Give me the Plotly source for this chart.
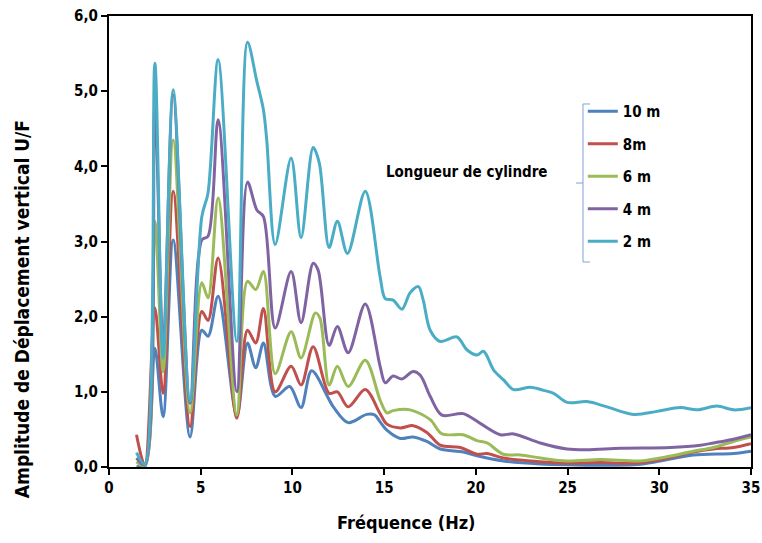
import plotly.graph_objects as go

# ---- data (frequency Hz, amplitude U/F) ----
names = ["10 m", "8m", "6 m", "4 m", "2 m"]
colors = ["#4F81BD", "#C0504D", "#9BBB59", "#8064A2", "#4BACC6"]

f_10 = [1.5, 1.95, 2.5, 2.95, 3.5, 4.42, 5.06, 5.4, 5.95, 6.97, 7.55, 8.0, 8.42, 9.06, 9.85, 10.47, 11.05,
        12.23, 13.04, 14.05, 14.5, 14.78, 15.15, 15.88, 16.58, 17.33, 18.06, 19.31, 20.06, 21.51, 23.51,
        24.97, 28.6, 30.06, 31.86, 34.04, 35.0]
a_10 = [0.01, 0.01, 1.58, 0.67, 3.02, 0.40, 1.82, 1.74, 2.27, 0.68, 1.65, 1.32, 1.65, 0.94, 1.07, 0.79, 1.28,
        0.80, 0.59, 0.70, 0.69, 0.60, 0.49, 0.38, 0.40, 0.34, 0.24, 0.20, 0.15, 0.08, 0.04,
        0.03, 0.03, 0.08, 0.16, 0.18, 0.21]

f_8 = [1.5, 1.95, 2.5, 2.95, 3.5, 4.42, 5.06, 5.4, 5.95, 6.97, 7.55, 8.0, 8.42, 9.06, 9.93, 10.47, 11.13,
       12.0, 12.45, 13.04, 13.97, 14.78, 15.15, 15.88, 16.58, 17.33, 18.06, 19.15, 20.06, 20.61, 21.49,
       23.51, 24.97, 26.79, 28.6, 30.06, 31.86, 32.95, 34.04, 35.0]
a_8 = [0.43, 0.02, 2.12, 0.98, 3.67, 0.54, 2.07, 1.95, 2.78, 0.65, 1.82, 1.65, 2.11, 1.00, 1.34, 1.09, 1.60,
       0.98, 1.00, 0.80, 1.03, 0.71, 0.57, 0.52, 0.55, 0.46, 0.29, 0.26, 0.17, 0.18, 0.12,
       0.07, 0.05, 0.06, 0.05, 0.10, 0.20, 0.24, 0.26, 0.31]

f_6 = [1.5, 1.95, 2.5, 2.95, 3.5, 4.42, 5.06, 5.4, 5.95, 6.97, 7.55, 8.0, 8.42, 9.06, 9.93, 10.47, 11.25,
       11.5, 12.0, 12.45, 13.04, 13.97, 14.78, 15.15, 15.49, 16.42, 17.51, 18.15, 19.31, 20.06, 20.61,
       21.49, 22.42, 23.51, 24.97, 26.79, 28.97, 30.06, 31.86, 32.95, 34.04, 35.0]
a_6 = [0.07, 0.02, 3.27, 1.27, 4.35, 0.72, 2.45, 2.25, 3.58, 0.69, 2.47, 2.36, 2.60, 1.24, 1.80, 1.45, 2.05,
       1.98, 1.09, 1.34, 1.07, 1.42, 0.89, 0.72, 0.75, 0.76, 0.63, 0.44, 0.43, 0.35, 0.32,
       0.17, 0.16, 0.12, 0.08, 0.10, 0.08, 0.12, 0.21, 0.26, 0.34, 0.40]

f_4 = [1.5, 1.95, 2.5, 2.95, 3.5, 4.42, 5.06, 5.4, 5.95, 6.97, 7.55, 8.06, 8.42, 9.06, 9.93, 10.47, 11.13,
       11.4, 12.0, 12.45, 13.04, 13.97, 14.78, 15.06, 15.49, 15.97, 16.58, 16.97, 17.51, 18.15, 19.31,
       20.24, 21.33, 22.06, 23.51, 24.97, 26.06, 27.88, 30.61, 32.24, 32.95, 34.04, 35.0]
a_4 = [0.12, 0.03, 4.80, 1.60, 4.95, 0.85, 3.02, 3.07, 4.62, 1.00, 3.79, 3.42, 3.33, 1.85, 2.60, 1.92, 2.71,
       2.62, 1.62, 1.87, 1.52, 2.17, 1.34, 1.12, 1.21, 1.17, 1.27, 1.22, 0.94, 0.69, 0.71,
       0.58, 0.43, 0.44, 0.32, 0.24, 0.23, 0.25, 0.26, 0.29, 0.32, 0.37, 0.43]

f_2 = [1.5, 1.95, 2.5, 2.95, 3.5, 4.42, 5.06, 5.4, 5.95, 6.97, 7.55, 8.06, 8.42, 8.6, 9.06, 9.93, 10.47,
       11.13, 11.46, 12.0, 12.45, 13.0, 13.97, 14.78, 15.06, 15.49, 15.97, 16.42, 16.87, 17.13, 17.51,
       18.06, 18.97, 19.51, 20.06, 20.42, 20.97, 21.51, 22.06, 22.97, 23.69, 24.24, 24.97, 26.06,
       27.15, 28.6, 29.88, 31.15, 32.06, 33.15, 34.06, 35.0]
a_2 = [0.19, 0.03, 5.37, 1.45, 5.02, 0.87, 3.33, 3.65, 5.42, 1.67, 5.65, 5.13, 4.75, 4.35, 2.96, 4.11, 3.05,
       4.25, 4.05, 2.92, 3.27, 2.84, 3.67, 2.53, 2.24, 2.22, 2.10, 2.32, 2.40, 2.22, 1.82,
       1.67, 1.73, 1.56, 1.49, 1.54, 1.29, 1.16, 1.03, 1.06, 1.02, 0.98, 0.86, 0.87,
       0.80, 0.70, 0.74, 0.79, 0.76, 0.81, 0.76, 0.79]

series_f = [f_10, f_8, f_6, f_4, f_2]
series_a = [a_10, a_8, a_6, a_4, a_2]

x_ticks = [0, 5, 10, 15, 20, 25, 30, 35]
y_ticks = [0, 1, 2, 3, 4, 5, 6]
y_ticktext = ["0,0", "1,0", "2,0", "3,0", "4,0", "5,0", "6,0"]

FONT = "DejaVu Sans Condensed, Liberation Sans Narrow, Roboto, sans-serif"

fig = go.Figure()
for i, (n, c, fx, ay) in enumerate(zip(names, colors, series_f, series_a)):
    fig.add_trace(go.Scatter(
        x=fx, y=ay, name=n, mode="lines",
        line=dict(color=c, width=3, shape="spline", smoothing=0.9),
        legendgroup=f"g{i}",
    ))

fig.update_layout(
    width=762, height=543,
    margin=dict(l=109, r=11, t=16, b=76),
    paper_bgcolor="white", plot_bgcolor="white",
    font=dict(family=FONT, size=15, color="black", weight="bold"),
    showlegend=True,
    legend=dict(x=0.738, y=0.825, xanchor="left", yanchor="top",
                bgcolor="rgba(0,0,0,0)", tracegroupgap=10,
                font=dict(family=FONT, size=15, color="black", weight="bold")),
    xaxis=dict(range=[0, 35], tickvals=x_ticks, ticks="outside", ticklen=6, tickwidth=1.5,
               tickcolor="black", showline=True, linecolor="black", linewidth=2, mirror=True,
               showgrid=False, zeroline=False, automargin=False, ticklabeloverflow="allow",
               tickfont=dict(family=FONT, size=15, weight="bold")),
    yaxis=dict(range=[0, 6], tickvals=y_ticks, ticktext=y_ticktext, ticks="outside", ticklen=6,
               tickwidth=1.5, tickcolor="black", showline=True, linecolor="black", linewidth=2,
               mirror=True, showgrid=False, zeroline=False, automargin=False, ticklabeloverflow="allow",
               tickfont=dict(family=FONT, size=15, weight="bold")),
    annotations=[
        dict(text="Longueur de cylindre", x=19.5, y=3.93, xref="x", yref="y",
             showarrow=False, font=dict(family=FONT, size=15, weight="bold")),
        dict(text="Fréquence (Hz)", x=0.464, y=-0.122, xref="paper", yref="paper",
             xanchor="center", yanchor="middle", showarrow=False,
             font=dict(family=FONT, size=18, weight="bold")),
        dict(text="Amplitude de Déplacement vertical U/F", x=-0.1355, y=0.35,
             xref="paper", yref="paper", xanchor="center", yanchor="middle",
             textangle=-90, showarrow=False, font=dict(family=FONT, size=19, weight="bold")),
    ],
)

# legend bracket
bc = "#7FA2D3"
for x0, y0, x1, y1 in [(0.7383, 0.8049, 0.7383, 0.4545), (0.7383, 0.8049, 0.7492, 0.8049),
                       (0.7383, 0.4545, 0.7492, 0.4545), (0.7274, 0.6297, 0.7383, 0.6297)]:
    fig.add_shape(type="line", xref="paper", yref="paper", x0=x0, y0=y0, x1=x1, y1=y1,
                  line=dict(color=bc, width=1))

fig.write_html("out.html", config={"displayModeBar": False},
               post_script="document.body.style.margin='0';document.body.style.overflow='hidden';")
